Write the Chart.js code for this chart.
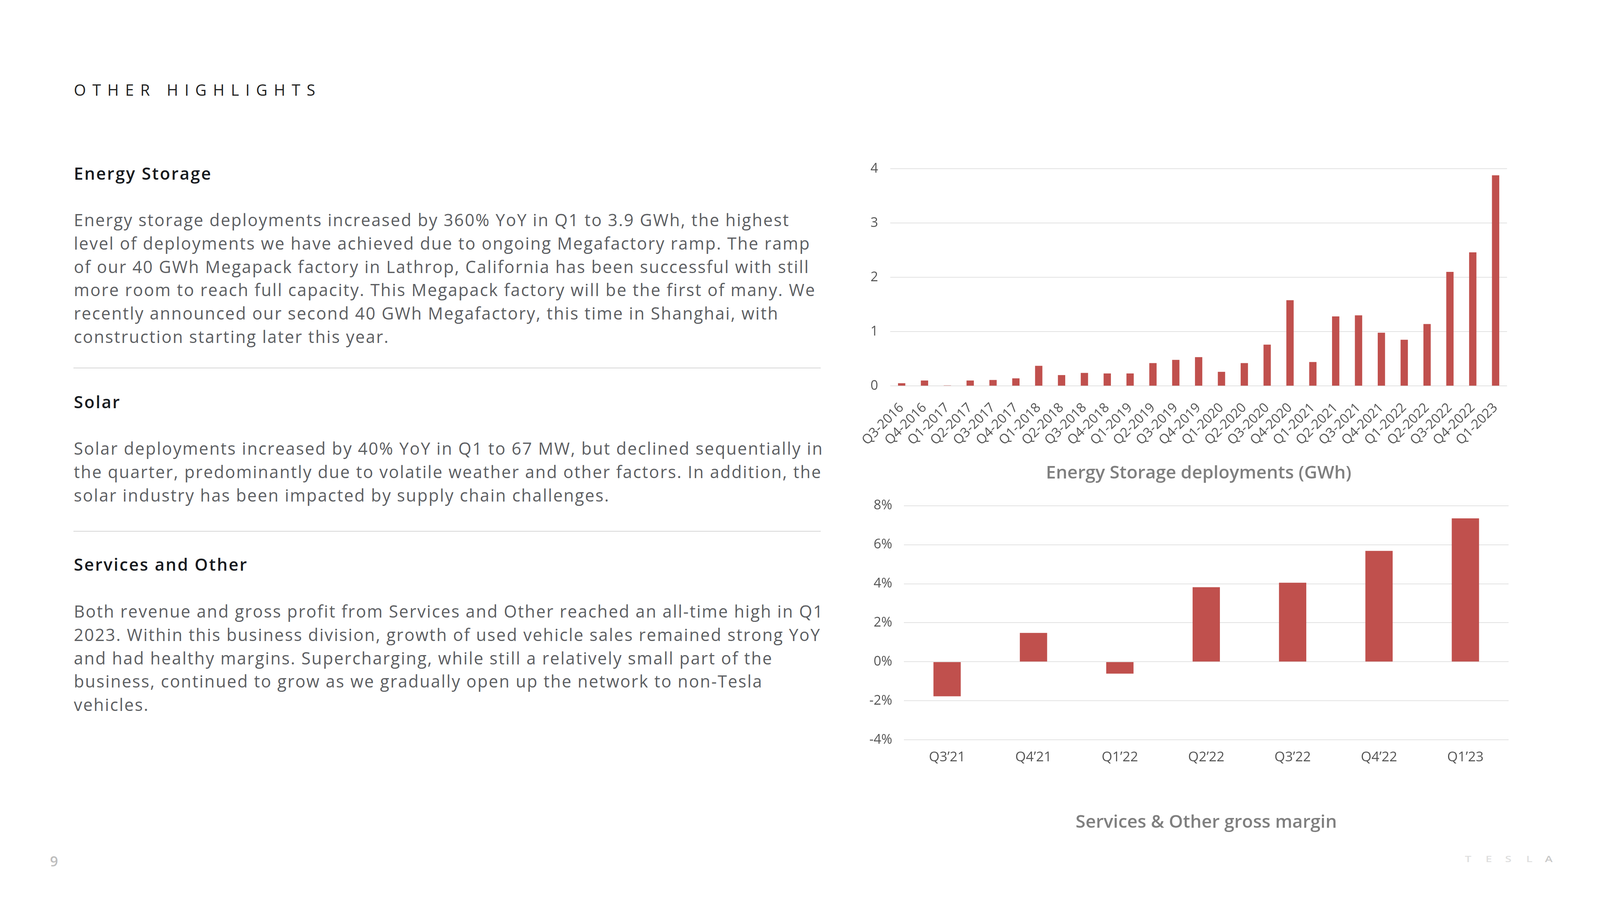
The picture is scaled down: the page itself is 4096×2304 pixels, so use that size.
<!DOCTYPE html>
<html><head><meta charset="utf-8">
<script src="https://cdn.jsdelivr.net/npm/chart.js@4/dist/chart.umd.min.js"></script>
<style>
html,body{margin:0;padding:0;background:#fff;}
body{width:4096px;height:2304px;position:relative;overflow:hidden;font-family:'Open Sans',sans-serif;}
.abs{position:absolute;white-space:nowrap;}
canvas{position:absolute;}
</style></head><body>
<canvas id="c1" width="1750" height="880" style="left:2150px;top:380px"></canvas>
<canvas id="c2" width="1750" height="916" style="left:2150px;top:1244px"></canvas>
<script>
// ---------- data ----------
const storageQuarters = ['Q3-2016','Q4-2016','Q1-2017','Q2-2017','Q3-2017','Q4-2017','Q1-2018','Q2-2018','Q3-2018','Q4-2018','Q1-2019','Q2-2019','Q3-2019','Q4-2019','Q1-2020','Q2-2020','Q3-2020','Q4-2020','Q1-2021','Q2-2021','Q3-2021','Q4-2021','Q1-2022','Q2-2022','Q3-2022','Q4-2022','Q1-2023'];
const storageGWh = [0.05,0.10,0.01,0.10,0.11,0.14,0.37,0.20,0.24,0.23,0.23,0.42,0.48,0.53,0.26,0.42,0.76,1.58,0.44,1.28,1.30,0.98,0.85,1.14,2.10,2.46,3.88];
const storageTicks = [0,1,2,3,4];
const marginQuarters = ["Q3\u201921","Q4\u201921","Q1\u201922","Q2\u201922","Q3\u201922","Q4\u201922","Q1\u201923"];
const marginPct = [-1.77,1.48,-0.61,3.82,4.05,5.68,7.35];
const marginTicks = [-4,-2,0,2,4,6,8];

const pageTitle = 'OTHER HIGHLIGHTS';
const sections = [
  {head:'Energy Storage', lines:[
    'Energy storage deployments increased by 360% YoY in Q1 to 3.9 GWh, the highest',
    'level of deployments we have achieved due to ongoing Megafactory ramp. The ramp',
    'of our 40 GWh Megapack factory in Lathrop, California has been successful with still',
    'more room to reach full capacity. This Megapack factory will be the first of many. We',
    'recently announced our second 40 GWh Megafactory, this time in Shanghai, with',
    'construction starting later this year.']},
  {head:'Solar', lines:[
    'Solar deployments increased by 40% YoY in Q1 to 67 MW, but declined sequentially in',
    'the quarter, predominantly due to volatile weather and other factors. In addition, the',
    'solar industry has been impacted by supply chain challenges.']},
  {head:'Services and Other', lines:[
    'Both revenue and gross profit from Services and Other reached an all-time high in Q1',
    '2023. Within this business division, growth of used vehicle sales remained strong YoY',
    'and had healthy margins. Supercharging, while still a relatively small part of the',
    'business, continued to grow as we gradually open up the network to non-Tesla',
    'vehicles.']}
];
const chart1Title = 'Energy Storage deployments (GWh)';
const chart2Title = 'Services & Other gross margin';
const pageNumber = '9';
const logoLetters = ['T','E','S','L','A'];

// ---------- text layout ----------
const FAM = "'Open Sans', sans-serif";
const mctx = document.createElement('canvas').getContext('2d');
function metrics(font){
  mctx.font = font;
  const m = mctx.measureText('H');
  return {fa:m.fontBoundingBoxAscent, fd:m.fontBoundingBoxDescent, cap:m.actualBoundingBoxAscent};
}
function width(font, t){ mctx.font = font; return mctx.measureText(t).width; }
function place(text, x, capY, size, weight, color, ls){
  const font = weight+' '+size+'px '+FAM;
  const L = Math.round(size*1.4);
  const m = metrics(font);
  const base = (L-(m.fa+m.fd))/2 + m.fa;
  const d = document.createElement('div');
  d.className='abs';
  d.textContent=text;
  d.style.font = font;
  d.style.lineHeight = L+'px';
  d.style.left = x+'px';
  d.style.top = (capY - (base - m.cap/2))+'px';
  d.style.color = color;
  if (ls) d.style.letterSpacing = ls+'px';
  document.body.appendChild(d);
  return d;
}
const LEFT = 189;
{
  const f = '500 40px '+FAM;
  const w0 = width(f, pageTitle);
  const ls = (618 - w0)/(pageTitle.length-1);
  place(pageTitle, LEFT, 231, 40, 500, '#222222', ls);
}
const BODY = 43, HEAD = 43;
const bodyFont = '400 '+BODY+'px '+FAM;
const bodyLS = Math.max(-2, Math.min(3, (1830 - width(bodyFont, sections[0].lines[0]))/(sections[0].lines[0].length-1)));
const headFont = '600 '+HEAD+'px '+FAM;
const headLS = Math.max(-2, Math.min(3, (353 - width(headFont, sections[0].head))/(sections[0].head.length-1)));
const headY = [445, 1030, 1446];
const bodyY = [564, 1149, 1566];
const STEP = 59.8;
sections.forEach((s,i)=>{
  place(s.head, LEFT, headY[i], HEAD, 600, '#171a20', headLS);
  s.lines.forEach((t,j)=> place(t, LEFT, bodyY[i]+j*STEP, BODY, 400, '#5c5e62', bodyLS));
});
[942, 1360].forEach(y=>{
  const d=document.createElement('div');
  d.className='abs';
  Object.assign(d.style,{left:'188px',top:(y-1)+'px',width:'1913px',height:'2px',background:'#d6d6d6'});
  document.body.appendChild(d);
});
place(pageNumber, 128, 2205, 36, 600, '#bdbdbd');
const logoX = [3750, 3803, 3853, 3907, 3955];
logoLetters.forEach((l,i)=>{
  const d = place(l, logoX[i], 2199, 22, 600, i===4?'#c9c9c9':'#dedede');
  d.style.transform='scaleX(1.35)';
  d.style.transformOrigin='left center';
});

// ---------- charts ----------
const TICK = '#555555', GRID = '#d9d9d9', BAR = '#c0504d', TTL = '#7f7f7f';
const TFONT = {family:FAM, size:46, weight:'600', lineHeight:1.2};
new Chart(document.getElementById('c1'), {
  type:'bar',
  data:{labels:storageQuarters, datasets:[{data:storageGWh, backgroundColor:BAR, barPercentage:0.32, categoryPercentage:1}]},
  options:{
    responsive:false, animation:false, devicePixelRatio:1,
    layout:{padding:{top:52,right:42,left:0,bottom:0}},
    plugins:{legend:{display:false}, tooltip:{enabled:false},
      title:{display:true, text:chart1Title, position:'bottom', fullSize:false, color:TTL,
        font:TFONT, padding:{top:0,bottom:21}}},
    scales:{
      x:{grid:{display:false}, border:{display:false},
         ticks:{autoSkip:false, minRotation:45, maxRotation:45, color:TICK, font:{family:FAM, size:34}, padding:28},
         afterFit:(s)=>{s.height=195.8;}},
      y:{min:storageTicks[0], max:storageTicks[storageTicks.length-1],
         afterBuildTicks:(s)=>{s.ticks = storageTicks.map(v=>({value:v}));},
         ticks:{color:TICK, font:{family:FAM, size:34}, padding:31},
         grid:{color:GRID, lineWidth:1.5, drawTicks:false}, border:{display:false},
         afterFit:(s)=>{s.width=129;}}
    }
  }
});
new Chart(document.getElementById('c2'), {
  type:'bar',
  data:{labels:marginQuarters, datasets:[{data:marginPct, backgroundColor:BAR, barPercentage:0.316, categoryPercentage:1}]},
  options:{
    responsive:false, animation:false, devicePixelRatio:1,
    layout:{padding:{top:0,right:38,left:0,bottom:0}},
    plugins:{legend:{display:false}, tooltip:{enabled:false},
      title:{display:true, text:chart2Title, position:'bottom', fullSize:false, color:TTL,
        font:TFONT, padding:{top:0,bottom:27}}},
    scales:{
      x:{grid:{display:false}, border:{display:false},
         ticks:{color:TICK, font:{family:FAM, size:35}, padding:16},
         afterFit:(s)=>{s.height=183.8;}},
      y:{min:marginTicks[0], max:marginTicks[marginTicks.length-1],
         afterBuildTicks:(s)=>{s.ticks = marginTicks.map(v=>({value:v}));},
         ticks:{color:TICK, font:{family:FAM, size:34}, padding:30, callback:(v)=>v+'%'},
         grid:{color:GRID, lineWidth:1.5, drawTicks:false}, border:{display:false},
         afterFit:(s)=>{s.width=164;}}
    }
  }
});
</script>
</body></html>
